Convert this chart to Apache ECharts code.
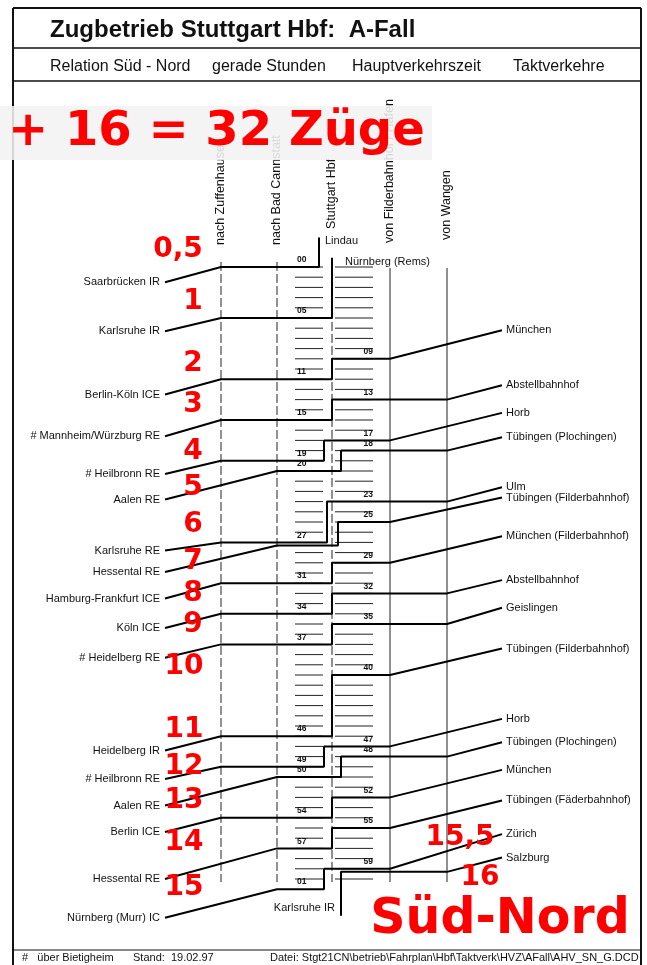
<!DOCTYPE html>
<html>
<head>
<meta charset="utf-8">
<script src="https://cdn.jsdelivr.net/npm/echarts@6/dist/echarts.min.js"></script>
<style>
html, body { margin: 0; padding: 0; background: #fff; }
#main { width: 647px; height: 965px; }
</style>
</head>
<body>
<div id="main"></div>
<script>
// ---- data: one row per train through Stuttgart Hbf (Süd -> Nord, gerade Stunde)
var fromSouth = ['Lindau', 'Nürnberg (Rems)', 'München', 'Abstellbahnhof', 'Horb', 'Tübingen (Plochingen)',
    'Ulm', 'Tübingen (Filderbahnhof)', 'München (Filderbahnhof)', 'Abstellbahnhof', 'Geislingen',
    'Tübingen (Filderbahnhof)', 'Horb', 'Tübingen (Plochingen)', 'München', 'Tübingen (Fäderbahnhof)',
    'Zürich', 'Salzburg'];
var arrMinute = [-1, -0.6, 9, 13, 17, 18, 23, 25, 29, 32, 35, 40, 47, 48, 52, 55, 59, 59.3];
var inVia = ['', '', 'F', 'W', 'F', 'W', 'W', 'F', 'F', 'W', 'W', 'F', 'F', 'W', 'F', 'F', 'F', 'W'];
var track = ['T', 'M', 'M', 'M', 'L', 'R', 'L2', 'R2', 'M', 'M', 'M', 'M', 'L', 'R', 'M', 'M', 'L', 'R'];
var toNorth = ['Saarbrücken IR', 'Karlsruhe IR', 'Berlin-Köln ICE', '# Mannheim/Würzburg RE', '# Heilbronn RE',
    'Aalen RE', 'Karlsruhe RE', 'Hessental RE', 'Hamburg-Frankfurt ICE', 'Köln ICE', '# Heidelberg RE',
    'Heidelberg IR', '# Heilbronn RE', 'Aalen RE', 'Berlin ICE', 'Hessental RE', 'Nürnberg (Murr) IC',
    'Karlsruhe IR'];
var depMinute = [0, 5, 11, 15, 19, 20, 27, 27.3, 31, 34, 37, 46, 49, 50, 54, 57, 61, 65];
var outVia = ['Z', 'Z', 'Z', 'Z', 'Z', 'C', 'Z', 'C', 'Z', 'Z', 'Z', 'Z', 'Z', 'C', 'Z', 'C', 'C', ''];
var countLabels = ['0,5', '1', '2', '3', '4', '5', '6', '7', '8', '9', '10', '11', '12', '13', '14', '15', '15,5', '16'];
var minuteTicks = [];
for (var k = 0; k <= 60; k++) minuteTicks.push(k);

// ---- layout (minutes on the y axis, schematic units on the x axis)
var col = { Z: 221, C: 277, hbf: 332, F: 390, W: 447, leftEnd: 165, rightEnd: 502 };
var trackX = { T: 319, L: 324, L2: 327, M: 332, R2: 338, R: 341 };
var rightRow = [-2.9, -0.9, 6.2, 11.6, 14.3, 16.7, 21.6, 22.6, 26.4, 30.7, 33.4, 37.4, 44.3, 46.6, 49.3, 52.3, 55.6, 57.9];
var leftRow = [1.5, 6.3, 12.5, 16.6, 20.3, 22.8, 27.8, 29.9, 32.5, 35.4, 38.3, 47.4, 50.2, 52.8, 55.4, 60.0, 63.8, 63.6];
var countPos = [[178, 250], [193, 302], [193, 364], [193, 405], [193, 452], [193, 488], [193, 525], [193, 562],
    [193, 594], [193, 625], [184, 667], [184, 730], [184, 767], [184, 801], [184, 843], [184, 888], [460, 838], [480, 878]];

var Y0 = 267, PX = 10.2, YMIN = -5, YMAX = 66;
var chart = echarts.init(document.getElementById('main'));

function trainPath(i) {
    var pts = [];
    var tx = trackX[track[i]];
    if (inVia[i]) {
        pts.push([col.rightEnd, rightRow[i]]);
        pts.push([col[inVia[i]], arrMinute[i]]);
        pts.push([tx, arrMinute[i]]);
    } else {
        pts.push([tx, rightRow[i]]);
    }
    if (outVia[i]) {
        pts.push([tx, depMinute[i]]);
        pts.push([col[outVia[i]], depMinute[i]]);
        pts.push([col.leftEnd, leftRow[i]]);
    } else {
        pts.push([tx, leftRow[i]]);
    }
    return pts;
}

function mm(v) {
    var m = ((v % 60) + 60) % 60;
    return (m < 10 ? '0' : '') + m;
}

// texts placed through the axes
var labelTexts = [];
var labelData = [];
function addText(x, m, text, align, font) {
    labelData.push([x, m]);
    labelTexts.push({ text: text, align: align, font: font });
}
var stationFont = '11px "Liberation Sans", Arial, sans-serif';
var minFont = 'bold 8.5px "Liberation Sans", Arial, sans-serif';
for (var i = 0; i < fromSouth.length; i++) {
    if (inVia[i]) {
        addText(col.rightEnd + 4, rightRow[i], fromSouth[i], 'left', stationFont);
        if (arrMinute[i] % 1 === 0) addText(373, arrMinute[i] - 0.25, mm(arrMinute[i]), 'right', minFont);
    } else {
        addText(trackX[track[i]] + (i === 0 ? 6 : 13), rightRow[i] + (i === 0 ? 0.3 : 0.4), fromSouth[i], 'left', stationFont);
    }
    if (outVia[i]) {
        addText(col.leftEnd - 5, leftRow[i], toNorth[i], 'right', stationFont);
        if (depMinute[i] % 1 === 0) addText(297, depMinute[i] - 0.25, mm(depMinute[i]), 'left', minFont);
    } else {
        addText(trackX[track[i]] - 6, leftRow[i] - 0.8, toNorth[i], 'right', stationFont);
    }
}

var series = [];
// column lines
[['Z', -0.5, 'dashed'], ['C', -0.5, 'dashed'], ['hbf', -0.5, 'dashed'], ['F', 0.1, 'solid'], ['W', 0.1, 'solid']].forEach(function (c) {
    series.push({
        type: 'line', symbol: 'none', silent: true, z: 1,
        lineStyle: { color: '#222', width: 1, type: c[2] === 'dashed' ? [9, 3] : 'solid' },
        data: [[col[c[0]], c[1]], [col[c[0]], 60.3]]
    });
});
// minute ticks
series.push({
    type: 'custom', silent: true, z: 1,
    data: minuteTicks,
    renderItem: function (params, api) {
        var m = api.value(0);
        var a = api.coord([295, m]), b = api.coord([323, m]);
        var c = api.coord([335, m]), d = api.coord([373, m]);
        return {
            type: 'group', children: [
                { type: 'line', shape: { x1: a[0], y1: a[1], x2: b[0], y2: b[1] }, style: { stroke: '#222', lineWidth: 1 } },
                { type: 'line', shape: { x1: c[0], y1: c[1], x2: d[0], y2: d[1] }, style: { stroke: '#222', lineWidth: 1 } }
            ]
        };
    }
});
// trains
for (var t = 0; t < fromSouth.length; t++) {
    series.push({
        type: 'line', symbol: 'none', silent: true, z: 3,
        lineStyle: { color: '#000', width: 2 },
        data: trainPath(t)
    });
}
// station & minute labels
series.push({
    type: 'custom', silent: true, z: 4,
    data: labelData,
    renderItem: function (params, api) {
        var p = api.coord([api.value(0), api.value(1)]);
        var d = labelTexts[params.dataIndex];
        return {
            type: 'text', x: p[0], y: p[1],
            style: { text: d.text, align: d.align, verticalAlign: d.font === minFont ? 'bottom' : 'middle', font: d.font, fill: '#111' }
        };
    }
});

var red = '#ff0000';
var redFont = 'bold 28px "DejaVu Sans", sans-serif';
var hdr = '"Liberation Sans", Arial, sans-serif';
var graphics = [
    { type: 'line', shape: { x1: 13, y1: 8, x2: 641, y2: 8 }, style: { stroke: '#111', lineWidth: 2 } },
    { type: 'line', shape: { x1: 13, y1: 8, x2: 13, y2: 965 }, style: { stroke: '#111', lineWidth: 2 } },
    { type: 'line', shape: { x1: 641, y1: 8, x2: 641, y2: 965 }, style: { stroke: '#111', lineWidth: 2 } },
    { type: 'line', shape: { x1: 13, y1: 48, x2: 641, y2: 48 }, style: { stroke: '#111', lineWidth: 1.5 } },
    { type: 'line', shape: { x1: 13, y1: 81, x2: 641, y2: 81 }, style: { stroke: '#111', lineWidth: 1.5 } },
    { type: 'line', shape: { x1: 13, y1: 950, x2: 641, y2: 950 }, style: { stroke: '#111', lineWidth: 1 } },
    { type: 'text', x: 50, y: 30, style: { text: 'Zugbetrieb Stuttgart Hbf:  A-Fall', font: 'bold 24px ' + hdr, fill: '#111', verticalAlign: 'middle' } },
    { type: 'text', x: 50, y: 67, style: { text: 'Relation Süd - Nord', font: '16px ' + hdr, fill: '#111', verticalAlign: 'middle' } },
    { type: 'text', x: 212, y: 67, style: { text: 'gerade Stunden', font: '16px ' + hdr, fill: '#111', verticalAlign: 'middle' } },
    { type: 'text', x: 352, y: 67, style: { text: 'Hauptverkehrszeit', font: '16px ' + hdr, fill: '#111', verticalAlign: 'middle' } },
    { type: 'text', x: 513, y: 67, style: { text: 'Taktverkehre', font: '16px ' + hdr, fill: '#111', verticalAlign: 'middle' } },
    { type: 'text', x: 22, y: 958, style: { text: '#   über Bietigheim', font: '11px ' + hdr, fill: '#111', verticalAlign: 'middle' } },
    { type: 'text', x: 133, y: 958, style: { text: 'Stand:  19.02.97', font: '11px ' + hdr, fill: '#111', verticalAlign: 'middle' } },
    { type: 'text', x: 270, y: 958, style: { text: 'Datei: Stgt21CN\\betrieb\\Fahrplan\\Hbf\\Taktverk\\HVZ\\AFall\\AHV_SN_G.DCD', font: '11px ' + hdr, fill: '#111', verticalAlign: 'middle' } }
];
// column headings, rotated
[['nach Zuffenhausen', 221, 245], ['nach Bad Cannstatt', 277, 245], ['Stuttgart Hbf', 332, 229], ['von Filderbahnhof / Hafen', 390, 243], ['von Wangen', 447, 240]].forEach(function (h) {
    graphics.push({ type: 'text', x: h[1], y: h[2], rotation: Math.PI / 2,
        style: { text: h[0], font: '12.5px ' + hdr, fill: '#111', align: 'left', verticalAlign: 'middle' } });
});
// red overlay
graphics.push({ type: 'rect', z: 50, shape: { x: 0, y: 106, width: 432, height: 54 }, style: { fill: 'rgba(242,242,242,0.88)' } });
graphics.push({ type: 'text', z: 51, x: 8, y: 133, style: { text: '+ 16 = 32 Züge', font: 'bold 48px "DejaVu Sans", sans-serif', fill: red, verticalAlign: 'middle' } });
graphics.push({ type: 'text', z: 51, x: 500, y: 920, style: { text: 'Süd-Nord', font: 'bold 49px "DejaVu Sans", sans-serif', fill: red, align: 'center', verticalAlign: 'middle' } });
countLabels.forEach(function (s, i) {
    graphics.push({ type: 'text', z: 51, x: countPos[i][0], y: countPos[i][1],
        style: { text: s, font: redFont, fill: red, align: 'center', verticalAlign: 'middle' } });
});

chart.setOption({
    backgroundColor: '#fff',
    animation: false,
    grid: { left: 0, right: 0, top: Y0 + YMIN * PX, bottom: 965 - (Y0 + YMAX * PX) },
    xAxis: { type: 'value', min: 0, max: 647, show: false },
    yAxis: { type: 'value', min: YMIN, max: YMAX, inverse: true, show: false },
    series: series,
    graphic: graphics
});
</script>
</body>
</html>
